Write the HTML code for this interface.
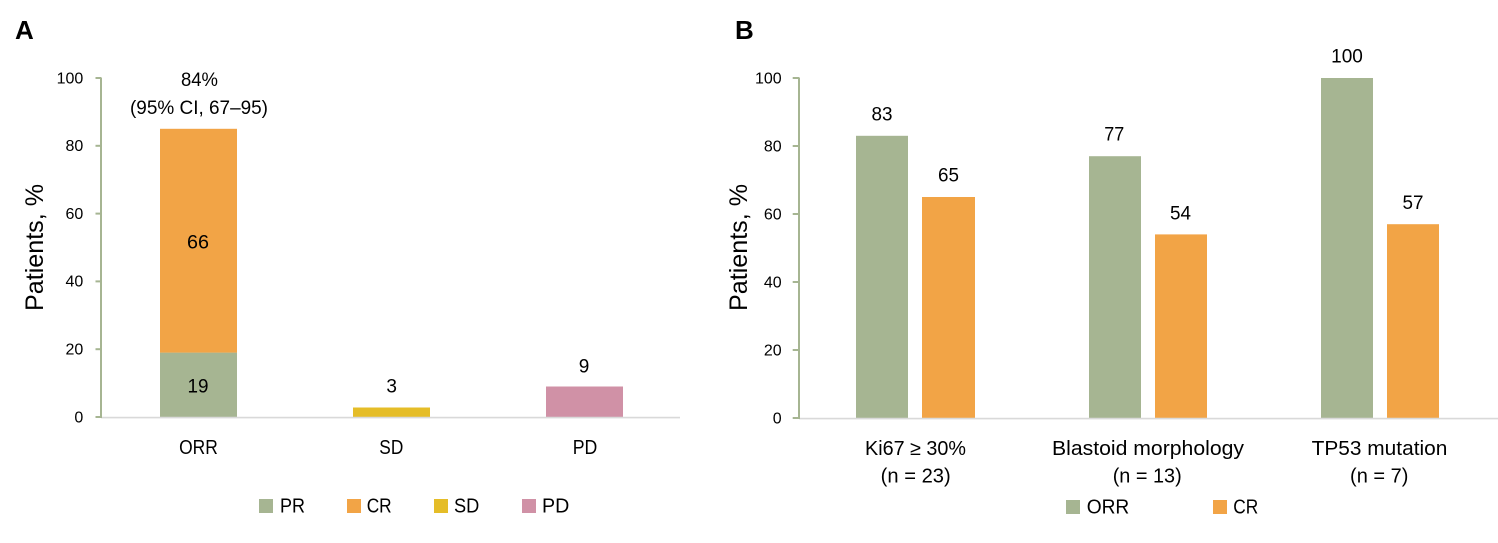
<!DOCTYPE html>
<html>
<head>
<meta charset="utf-8">
<style>
html,body{margin:0;padding:0;background:#fff;}
svg{display:block;}
text{font-family:"Liberation Sans",Arial,sans-serif;fill:#000;}
</style>
</head>
<body>
<svg width="1498" height="543" viewBox="0 0 1498 543" xmlns="http://www.w3.org/2000/svg">
<rect width="1498" height="543" fill="#fff"/>

<!-- ===== Panel A ===== -->
<text x="15" y="39" font-size="26" font-weight="bold">A</text>

<!-- y axis label -->
<text transform="translate(43,247.5) rotate(-90)" text-anchor="middle" font-size="25" textLength="127" lengthAdjust="spacingAndGlyphs">Patients, %</text>

<!-- ticks labels -->
<g font-size="16" text-anchor="end">
<text x="83.3" y="83.3">100</text>
<text x="83.3" y="151.1">80</text>
<text x="83.3" y="218.9">60</text>
<text x="83.3" y="286.7">40</text>
<text x="83.3" y="354.5">20</text>
<text x="83.3" y="422.3">0</text>
</g>

<!-- bars -->
<rect x="160" y="352.6" width="77" height="64.4" fill="#a6b592"/>
<rect x="160" y="128.8" width="77" height="223.8" fill="#f2a446"/>
<rect x="353" y="407.5" width="77" height="9.5" fill="#e5bd28"/>
<rect x="546" y="386.5" width="77" height="30.5" fill="#d091a6"/>

<!-- baseline -->
<line x1="101" y1="417.6" x2="680" y2="417.6" stroke="#d9d9d9" stroke-width="1.6"/>
<!-- y axis -->
<line x1="101" y1="77.5" x2="101" y2="418" stroke="#a6b592" stroke-width="2"/>
<g stroke="#a6b592" stroke-width="2">
<line x1="95.5" y1="78" x2="101" y2="78"/>
<line x1="95.5" y1="145.8" x2="101" y2="145.8"/>
<line x1="95.5" y1="213.6" x2="101" y2="213.6"/>
<line x1="95.5" y1="281.4" x2="101" y2="281.4"/>
<line x1="95.5" y1="349.2" x2="101" y2="349.2"/>
<line x1="95.5" y1="417" x2="101" y2="417"/>
</g>

<!-- data labels -->
<g font-size="19" text-anchor="middle">
<text x="199.5" y="86" textLength="37" lengthAdjust="spacingAndGlyphs">84%</text>
<text x="199" y="114" textLength="138" lengthAdjust="spacingAndGlyphs">(95% CI, 67–95)</text>
<text x="198" y="248.3" textLength="22" lengthAdjust="spacingAndGlyphs">66</text>
<text x="198" y="392.7" textLength="21" lengthAdjust="spacingAndGlyphs">19</text>
<text x="391.7" y="392.7">3</text>
<text x="584" y="372.6">9</text>
</g>

<!-- category labels -->
<g font-size="20" text-anchor="middle">
<text x="198.5" y="454" textLength="38.7" lengthAdjust="spacingAndGlyphs">ORR</text>
<text x="391.3" y="454" textLength="24" lengthAdjust="spacingAndGlyphs">SD</text>
<text x="585" y="454" textLength="24.6" lengthAdjust="spacingAndGlyphs">PD</text>
</g>

<!-- legend A -->
<rect x="259" y="499" width="14" height="14" fill="#a6b592"/>
<text x="280" y="512.7" font-size="20" textLength="25" lengthAdjust="spacingAndGlyphs">PR</text>
<rect x="347" y="499" width="14" height="14" fill="#f2a446"/>
<text x="366.7" y="512.7" font-size="20" textLength="25" lengthAdjust="spacingAndGlyphs">CR</text>
<rect x="434" y="499" width="14" height="14" fill="#e5bd28"/>
<text x="454" y="512.7" font-size="20" textLength="25.3" lengthAdjust="spacingAndGlyphs">SD</text>
<rect x="522" y="499" width="14" height="14" fill="#d091a6"/>
<text x="542" y="512.7" font-size="20" textLength="27.3" lengthAdjust="spacingAndGlyphs">PD</text>

<!-- ===== Panel B ===== -->
<text x="735" y="39" font-size="26" font-weight="bold">B</text>

<text transform="translate(747,247.5) rotate(-90)" text-anchor="middle" font-size="25" textLength="127" lengthAdjust="spacingAndGlyphs">Patients, %</text>

<g font-size="16" text-anchor="end">
<text x="781.7" y="83.3">100</text>
<text x="781.7" y="151.3">80</text>
<text x="781.7" y="219.3">60</text>
<text x="781.7" y="287.3">40</text>
<text x="781.7" y="355.3">20</text>
<text x="781.7" y="423.3">0</text>
</g>

<!-- bars B -->
<rect x="856" y="135.8" width="52" height="282.2" fill="#a6b592"/>
<rect x="922" y="197" width="53" height="221" fill="#f2a446"/>
<rect x="1089" y="156.2" width="52" height="261.8" fill="#a6b592"/>
<rect x="1155" y="234.4" width="52" height="183.6" fill="#f2a446"/>
<rect x="1321" y="78" width="52" height="340" fill="#a6b592"/>
<rect x="1387" y="224.2" width="52" height="193.8" fill="#f2a446"/>

<line x1="799" y1="418.6" x2="1498" y2="418.6" stroke="#d9d9d9" stroke-width="1.6"/>
<line x1="799" y1="77.5" x2="799" y2="419" stroke="#a6b592" stroke-width="2"/>
<g stroke="#a6b592" stroke-width="2">
<line x1="792.7" y1="78" x2="799" y2="78"/>
<line x1="792.7" y1="146" x2="799" y2="146"/>
<line x1="792.7" y1="214" x2="799" y2="214"/>
<line x1="792.7" y1="282" x2="799" y2="282"/>
<line x1="792.7" y1="350" x2="799" y2="350"/>
<line x1="792.7" y1="418" x2="799" y2="418"/>
</g>

<g font-size="19" text-anchor="middle">
<text x="882" y="120.7" textLength="21" lengthAdjust="spacingAndGlyphs">83</text>
<text x="948.5" y="181.7" textLength="21" lengthAdjust="spacingAndGlyphs">65</text>
<text x="1114.3" y="140.7" textLength="20" lengthAdjust="spacingAndGlyphs">77</text>
<text x="1180.5" y="219.3" textLength="21" lengthAdjust="spacingAndGlyphs">54</text>
<text x="1347" y="62.3" textLength="31.7" lengthAdjust="spacingAndGlyphs">100</text>
<text x="1413" y="209" textLength="21" lengthAdjust="spacingAndGlyphs">57</text>
</g>

<g font-size="20" text-anchor="middle">
<text x="915.5" y="455" textLength="101" lengthAdjust="spacingAndGlyphs">Ki67 ≥ 30%</text>
<text x="915.7" y="482.5" textLength="70" lengthAdjust="spacingAndGlyphs">(n = 23)</text>
<text x="1148" y="455" textLength="192" lengthAdjust="spacingAndGlyphs">Blastoid morphology</text>
<text x="1147.2" y="482.5" textLength="69" lengthAdjust="spacingAndGlyphs">(n = 13)</text>
<text x="1379.5" y="455" textLength="135.7" lengthAdjust="spacingAndGlyphs">TP53 mutation</text>
<text x="1379.2" y="482.5" textLength="58.3" lengthAdjust="spacingAndGlyphs">(n = 7)</text>
</g>

<!-- legend B -->
<rect x="1066" y="500" width="14" height="14" fill="#a6b592"/>
<text x="1086.7" y="513.3" font-size="20" textLength="42.6" lengthAdjust="spacingAndGlyphs">ORR</text>
<rect x="1213" y="500" width="14" height="14" fill="#f2a446"/>
<text x="1233.3" y="513.3" font-size="20" textLength="25" lengthAdjust="spacingAndGlyphs">CR</text>
</svg>
</body>
</html>
